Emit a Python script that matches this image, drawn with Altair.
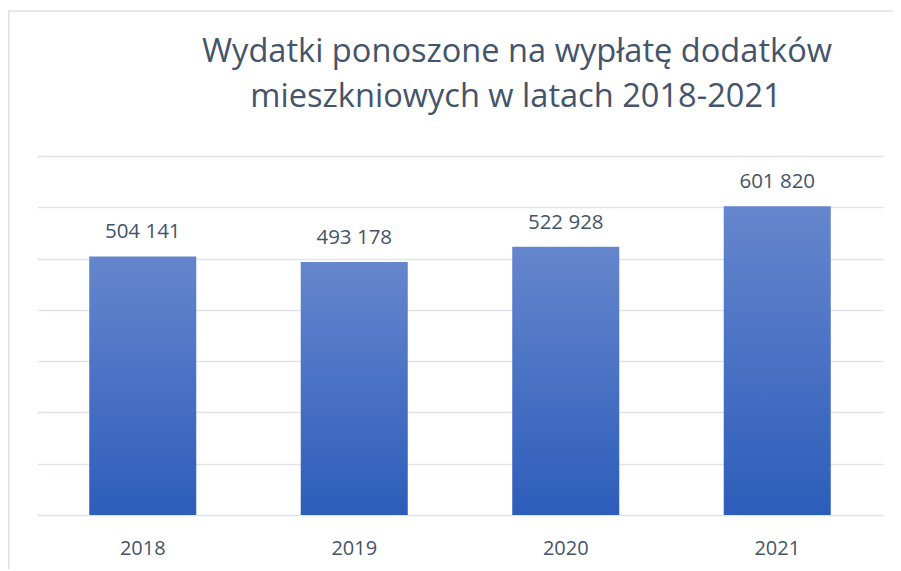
import altair as alt
import pandas as pd

years = ["2018", "2019", "2020", "2021"]
values = [504141, 493178, 522928, 601820]
labels = ["504 141", "493 178", "522 928", "601 820"]
title_lines = ["Wydatki ponoszone na wypłatę dodatków", "mieszkniowych w latach 2018-2021"]
y_ticks = [0, 100000, 200000, 300000, 400000, 500000, 600000, 700000]

df = pd.DataFrame({"year": years, "value": values, "label": labels})

TEXT = "#44546A"
GRID = "#E0E3E8"
FONT = "Open Sans"

W, H = 846, 359

xenc = alt.X("year:N", sort=years,
             scale=alt.Scale(paddingInner=0.494, paddingOuter=0.247),
             axis=alt.Axis(title=None, labelAngle=0, ticks=False, domain=False,
                           labelFont=FONT, labelFontSize=20, labelColor=TEXT,
                           labelBaseline="alphabetic", labelPadding=39))
yenc = alt.Y("value:Q",
             scale=alt.Scale(domain=[0, 700000], nice=False, zero=True),
             axis=alt.Axis(title=None, labels=False, ticks=False, domain=False,
                           values=y_ticks, grid=True, gridColor=GRID, gridWidth=1.3))

bars = alt.Chart(df).mark_bar(
    color=alt.Gradient(gradient="linear",
                       stops=[alt.GradientStop(color="#6586CD", offset=0),
                              alt.GradientStop(color="#2D5DBA", offset=1)],
                       x1=0, y1=0, x2=0, y2=1)
).encode(x=xenc, y=yenc)

text = alt.Chart(df).mark_text(
    font=FONT, fontSize=20.5, color=TEXT, baseline="alphabetic", dy=-18
).encode(x=alt.X("year:N", sort=years), y="value:Q", text="label:N")

frame = pd.DataFrame({"k": [0]})
left_border = alt.Chart(frame).mark_rule(color="#DDE1E6", strokeWidth=1.5).encode(
    x=alt.value(-28.2), y=alt.value(-145), y2=alt.value(H + 60))
top_border = alt.Chart(frame).mark_rule(color="#DDE1E6", strokeWidth=1.5).encode(
    y=alt.value(-145), x=alt.value(-29), x2=alt.value(W + 12))

title1 = alt.Chart(frame).mark_text(
    font=FONT, fontSize=32.6, color=TEXT, baseline="alphabetic", align="center"
).encode(x=alt.value(480), y=alt.value(-94), text=alt.value(title_lines[0]))
title2 = alt.Chart(frame).mark_text(
    font=FONT, fontSize=32.6, color=TEXT, baseline="alphabetic", align="center"
).encode(x=alt.value(479), y=alt.value(-49), text=alt.value(title_lines[1]))

chart = alt.layer(bars, text, left_border, top_border, title1, title2).properties(
    width=W, height=H,
    background="white",
    autosize=alt.AutoSizeParams(type="none"),
    padding={"left": 29, "top": 148, "right": 10, "bottom": 54},
).configure_view(strokeWidth=0, stroke="transparent")

chart.save("out.html", embed_options={"renderer": "svg", "actions": False})
